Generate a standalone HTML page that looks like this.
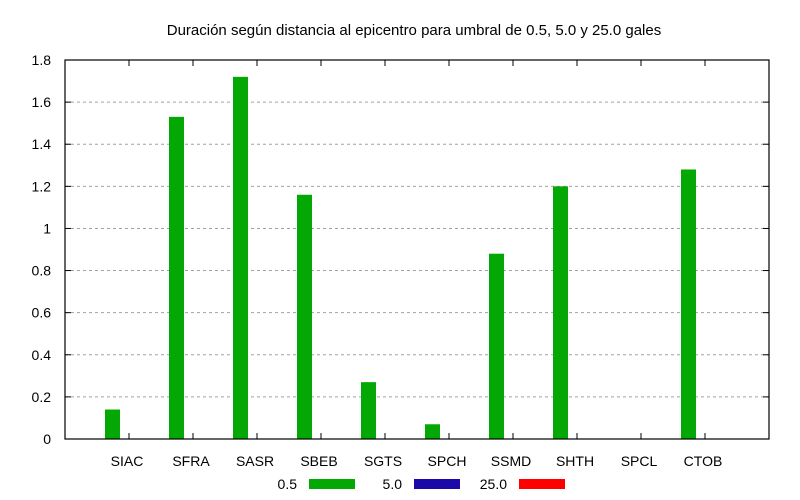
<!DOCTYPE html>
<html><head><meta charset="utf-8"><style>
body{margin:0;background:#fff}
svg{display:block;font-family:"Liberation Sans",sans-serif}
</style></head><body>
<svg id="chart" width="800" height="500" viewBox="0 0 800 500">
<rect width="800" height="500" fill="#fff"/>
<text x="414" y="35" font-size="15" text-anchor="middle">Duración según distancia al epicentro para umbral de 0.5, 5.0 y 25.0 gales</text>
<g id="grid"></g><g id="bars"></g><g id="axes"></g>
<g id="legend"></g>
</svg>
<script>
const categories=["SIAC","SFRA","SASR","SBEB","SGTS","SPCH","SSMD","SHTH","SPCL","CTOB"];
const values05=[0.14,1.53,1.72,1.16,0.27,0.07,0.88,1.2,0,1.28];
const values50=[0,0,0,0,0,0,0,0,0,0];
const values250=[0,0,0,0,0,0,0,0,0,0];
const yTicks=[0,0.2,0.4,0.6,0.8,1,1.2,1.4,1.6,1.8];
const yTickLabels=["0","0.2","0.4","0.6","0.8","1","1.2","1.4","1.6","1.8"];
const seriesNames=["0.5","5.0","25.0"];
const L=65,R=769,T=60,B=439;
const x=i=>L+(i+1)*(R-L)/11;
const y=v=>B-v/1.8*(B-T);
const NS="http://www.w3.org/2000/svg";
function mk(tag,attrs,parent,text){const e=document.createElementNS(NS,tag);for(const k in attrs)e.setAttribute(k,attrs[k]);if(text!==undefined)e.textContent=text;parent.appendChild(e);return e;}
const grid=document.getElementById('grid'),bars=document.getElementById('bars'),axes=document.getElementById('axes'),legend=document.getElementById('legend');
yTicks.forEach((t,i)=>{
  if(i>0&&i<yTicks.length-1){const g=mk('line',{x1:L,x2:R,y1:y(t),y2:y(t),stroke:'#a0a0a0','stroke-dasharray':'3,3'},grid);
  
  }
  const tl=mk('line',{x1:L,x2:L+6,y1:y(t),y2:y(t),stroke:'#000'},axes);
  
  
  mk('line',{x1:R-6,x2:R,y1:y(t),y2:y(t),stroke:'#000'},axes);
  const lb=mk('text',{x:L-14,y:y(t)+5,'font-size':14,'text-anchor':'end'},axes,yTickLabels[i]);
  
  
});
const colors=["#04a804","#1c0aa8","#ff0000"];
const series=[values05,values50,values250];
const bw=15;
categories.forEach((c,i)=>{
  const cx=x(i);
  series.forEach((s,j)=>{
    if(s[i]>0){const r=mk('rect',{x:cx-24+j*bw,y:y(s[i]),width:bw,height:B-y(s[i]),fill:colors[j]},bars);
    
    }
  });
  const tk=mk('line',{x1:cx,x2:cx,y1:B,y2:B-6,stroke:'#000'},axes);
  
  
  mk('line',{x1:cx,x2:cx,y1:T,y2:T+6,stroke:'#000'},axes);
  const lb=mk('text',{x:cx-2,y:466,'font-size':14,'text-anchor':'middle'},axes,c);
  
  
});
const frame=mk('rect',{x:L,y:T,width:R-L,height:B-T,fill:'none',stroke:'#000','stroke-width':1.2},axes);


seriesNames.forEach((n,j)=>{
  const ox=j*105;
  const t=mk('text',{x:297+ox,y:489,'font-size':14,'text-anchor':'end'},legend,n);
  
  
  const s=mk('rect',{x:309+ox,y:479,width:46,height:10,fill:colors[j]},legend);
  
  
});
</script>
</body></html>
